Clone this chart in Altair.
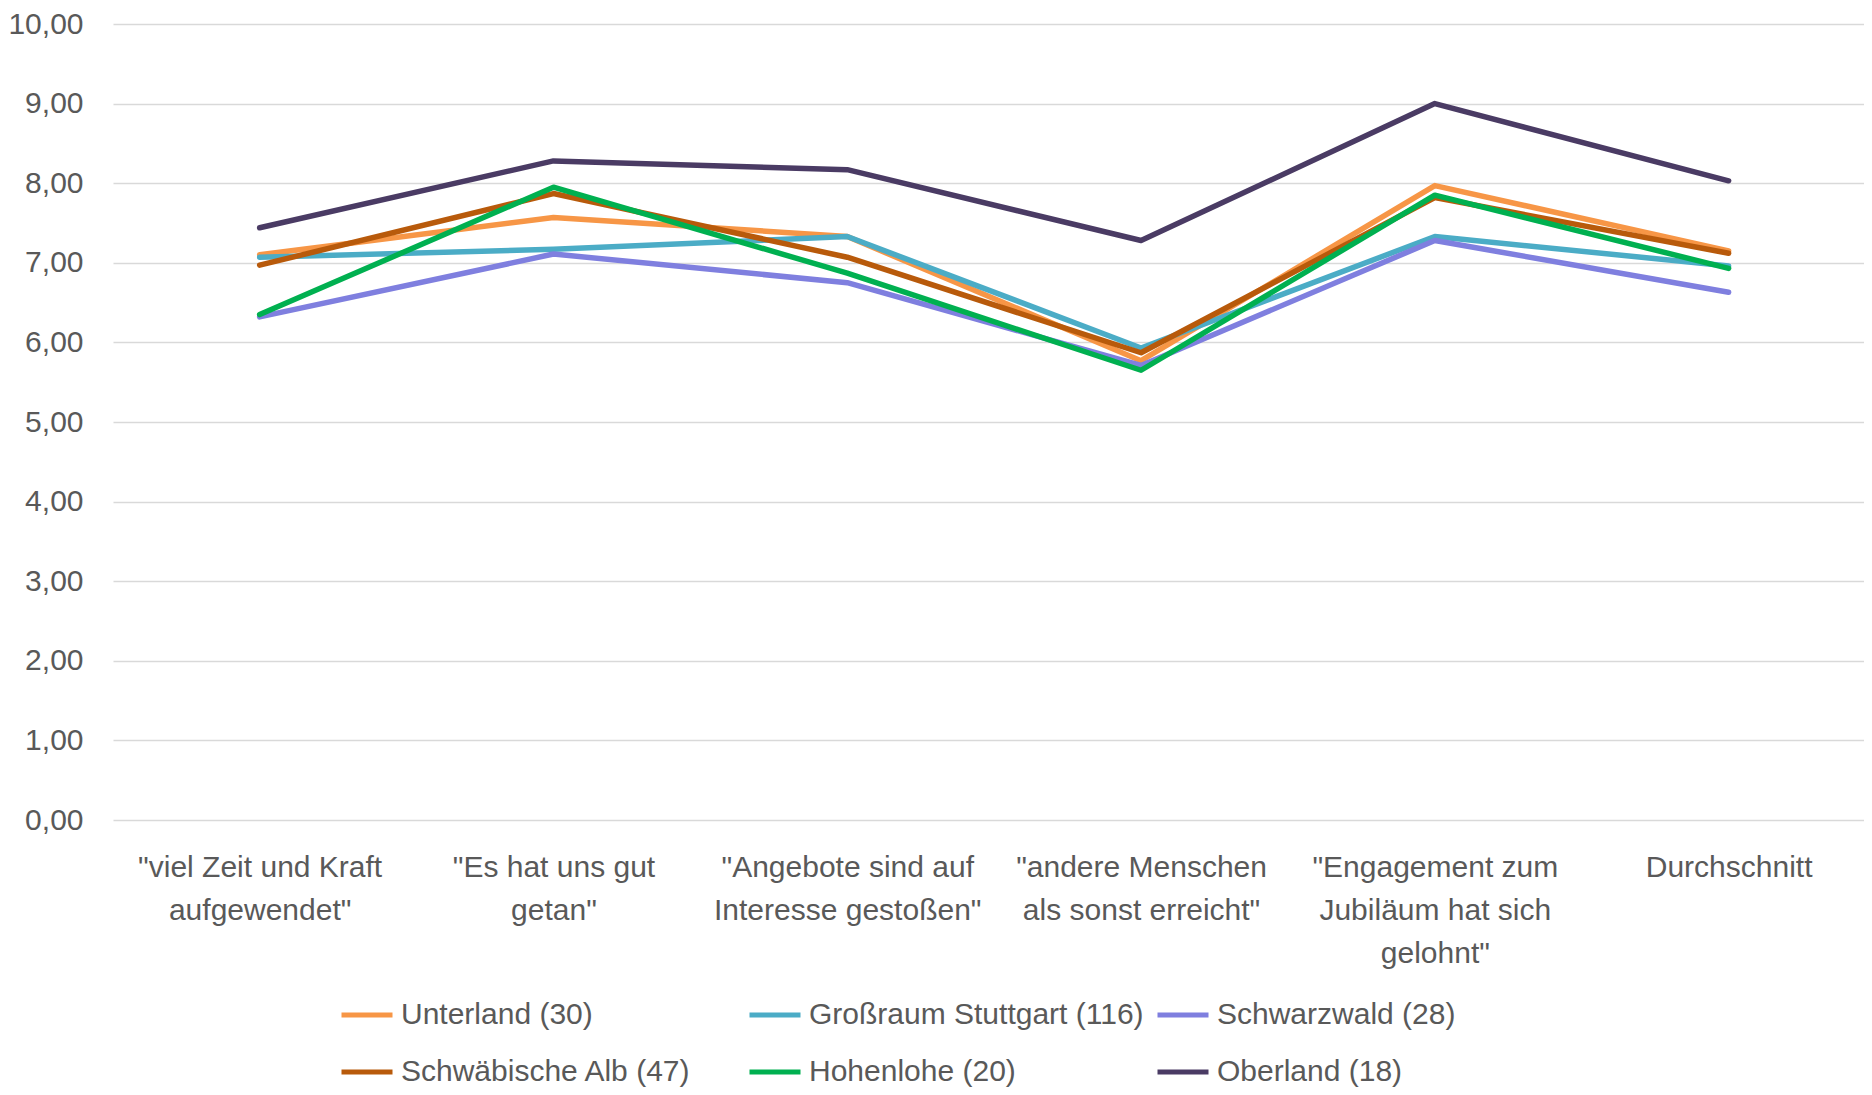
import altair as alt
import pandas as pd

categories = [
    '"viel Zeit und Kraft\naufgewendet"',
    '"Es hat uns gut\ngetan"',
    '"Angebote sind auf\nInteresse gestoßen"',
    '"andere Menschen\nals sonst erreicht"',
    '"Engagement zum\nJubiläum hat sich\ngelohnt"',
    'Durchschnitt',
]

series = [
    "Unterland (30)",
    "Großraum Stuttgart (116)",
    "Schwarzwald (28)",
    "Schwäbische Alb (47)",
    "Hohenlohe (20)",
    "Oberland (18)",
]

unterland = [7.10, 7.57, 7.33, 5.77, 7.97, 7.15]
stuttgart = [7.07, 7.17, 7.33, 5.93, 7.33, 6.96]
schwarzwald = [6.32, 7.11, 6.75, 5.71, 7.28, 6.63]
alb = [6.97, 7.87, 7.07, 5.87, 7.82, 7.12]
hohenlohe = [6.35, 7.95, 6.87, 5.65, 7.85, 6.93]
oberland = [7.44, 8.28, 8.17, 7.28, 9.00, 8.03]

colors = ["#f79646", "#4bacc6", "#7f7fdf", "#b85a0b", "#00b050", "#4a3b64"]

values = [unterland, stuttgart, schwarzwald, alb, hohenlohe, oberland]
rows = []
for s, vals in zip(series, values):
    for c, v in zip(categories, vals):
        rows.append({"Kategorie": c, "Region": s, "Wert": v})
df = pd.DataFrame(rows)

FONT = "Liberation Sans"
GRAY = "#595959"

chart = (
    alt.Chart(df)
    .mark_line(strokeWidth=5.5, strokeCap="round", strokeJoin="round")
    .encode(
        x=alt.X(
            "Kategorie:N",
            sort=categories,
            scale=alt.Scale(type="point", padding=0.48, align=0.52),
            axis=alt.Axis(
                title=None,
                labelAngle=0,
                labelExpr="split(datum.label, '\\n')",
                labelFontSize=30,
                labelLineHeight=43,
                labelColor=GRAY,
                labelFont=FONT,
                labelPadding=32,
                labelLimit=400,
                ticks=False,
                domain=False,
                grid=False,
            ),
        ),
        y=alt.Y(
            "Wert:Q",
            scale=alt.Scale(domain=[0, 10], nice=False, zero=True),
            axis=alt.Axis(
                title=None,
                values=[0, 1, 2, 3, 4, 5, 6, 7, 8, 9, 10],
                labelExpr="replace(format(datum.value, '.2f'), '.', ',')",
                labelFontSize=30,
                labelColor=GRAY,
                labelFont=FONT,
                labelPadding=30,
                ticks=False,
                domain=False,
                grid=True,
                gridColor="#d9d9d9",
                gridWidth=1.5,
            ),
        ),
        color=alt.Color(
            "Region:N",
            sort=series,
            scale=alt.Scale(domain=series, range=colors),
            legend=alt.Legend(
                title=None,
                orient="none",
                legendX=226,
                legendY=963,
                direction="horizontal",
                columns=3,
                gridAlign="all",
                columnPadding=3,
                rowPadding=14,
                symbolType="stroke",
                symbolSize=2601,
                symbolStrokeWidth=5,
                labelFontSize=30,
                labelFont=FONT,
                labelColor=GRAY,
                labelOffset=6,
                labelLimit=500,
            ),
        ),
    )
    .properties(
        width=1751,
        height=796,
        autosize=alt.AutoSizeParams(type="none"),
        padding={"left": 105, "top": 16, "right": 0, "bottom": 267},
    )
    .configure(font=FONT)
    .configure_view(strokeWidth=0, stroke="transparent")
)

chart.save("out.html", embed_options={"renderer": "svg", "actions": False})
